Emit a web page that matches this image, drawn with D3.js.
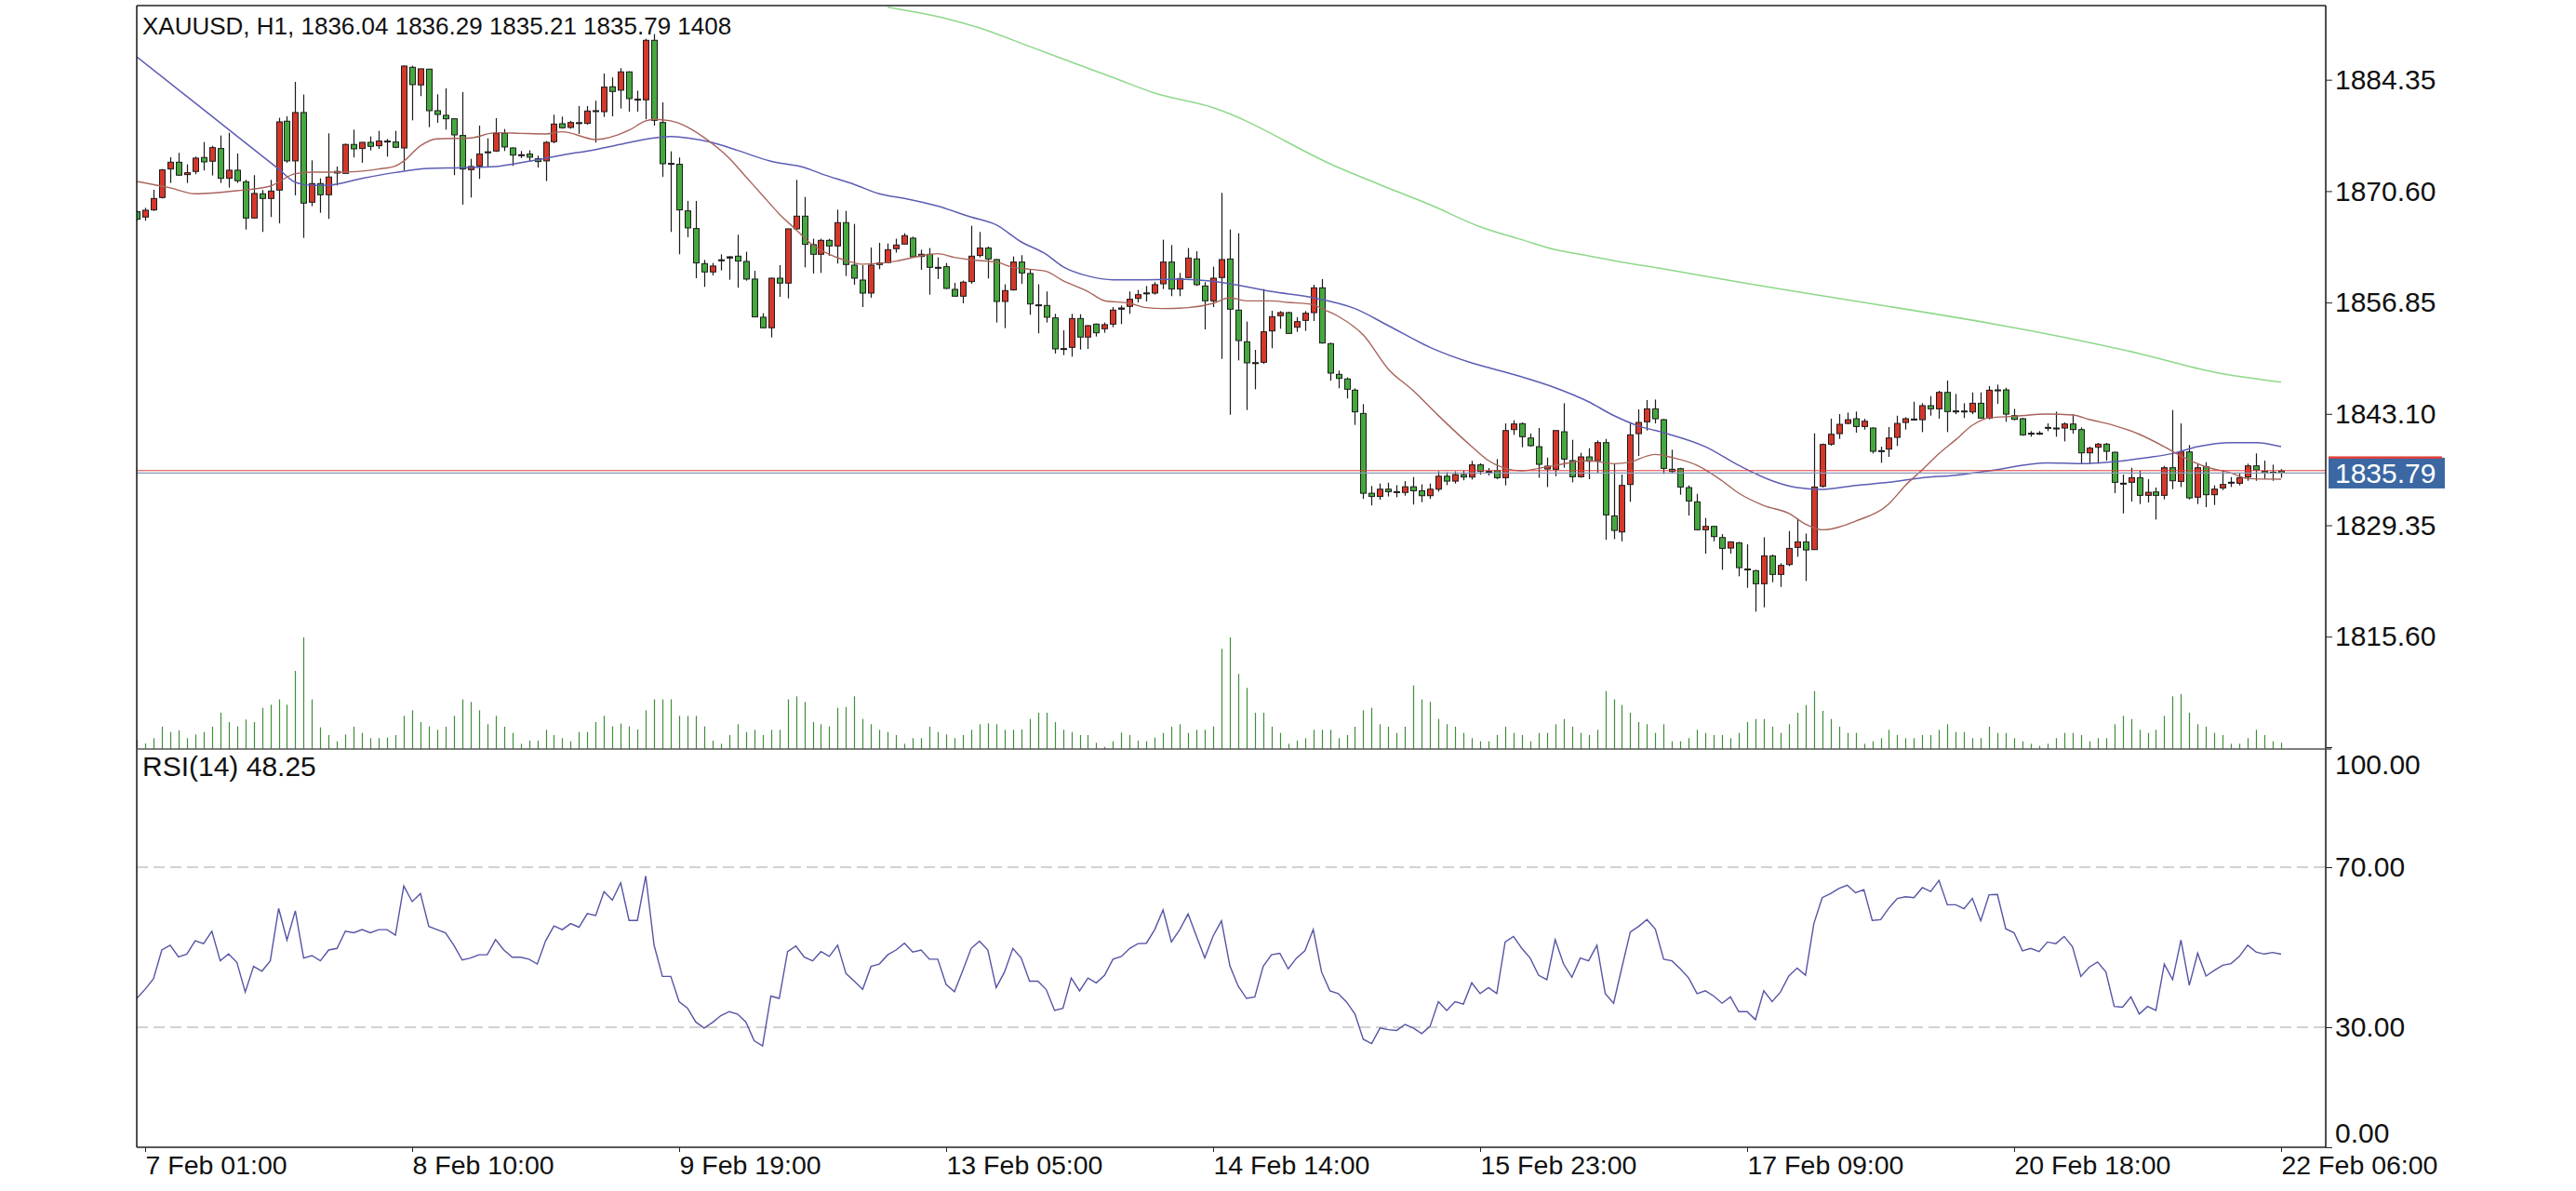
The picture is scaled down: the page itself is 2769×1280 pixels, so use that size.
<!DOCTYPE html>
<html><head><meta charset="utf-8">
<script src="https://cdn.jsdelivr.net/npm/d3@7"></script>
<style>
html,body{margin:0;padding:0;background:#fff;}
svg{display:block;}
text{font-family:"Liberation Sans", Arial, sans-serif;}
</style></head><body>
<svg id="chart" width="2769" height="1280"></svg>
<script>
// ---------- DATA (bar index i runs from firstBar=-1 to 256) ----------
const firstBar = -1;
const titleText = "XAUUSD, H1, 1836.04 1836.29 1835.21 1835.79 1408";
const rsiLabel = "RSI(14) 48.25";
const opens = [
1868.05,1867.40,1868.28,1869.81,1873.33,1874.17,1872.64,1873.03,1874.75,1874.29,1875.86,
1872.18,1873.18,1871.76,1867.28,1870.27,1869.69,1870.73,1879.23,1874.33,1880.30,
1869.23,1871.53,1870.15,1872.83,1872.79,1876.36,1875.86,1876.62,1876.20,1876.78,
1876.66,1875.93,1885.89,1883.71,1885.66,1880.53,1879.96,1879.53,1877.47,1873.25,
1873.71,1875.45,1875.55,1877.73,1875.93,1875.09,1875.17,1874.59,1874.33,1876.70,
1878.92,1878.46,1879.05,1878.96,1880.53,1880.41,1883.48,1883.06,1885.32,1881.95,
1881.87,1889.22,1879.07,1874.02,1873.91,1868.16,1865.98,1861.65,1860.62,1862.12,
1862.49,1862.57,1861.92,1859.74,1855.03,1853.73,1859.85,1859.24,1865.94,1867.51,
1863.99,1862.80,1864.52,1863.83,1866.71,1861.46,1859.62,1858.01,1861.54,1861.77,
1863.49,1864.06,1864.79,1862.53,1862.80,1861.19,1861.27,1858.47,1857.63,1859.43,
1862.65,1863.57,1862.15,1856.98,1858.40,1861.84,1860.43,1856.56,1856.48,1854.95,
1851.16,1851.31,1854.87,1852.58,1854.18,1853.61,1854.18,1856.02,1856.37,1857.36,
1858.01,1858.01,1859.16,1861.84,1858.51,1859.93,1862.23,1858.89,1857.05,1859.93,
1862.22,1855.91,1852.00,1849.42,1849.47,1853.34,1855.22,1855.60,1853.80,1854.64,
1855.60,1858.66,1851.77,1847.98,1847.41,1846.03,1843.15,1833.3,1832.9,1833.8,
1833.5,1833.4,1834.1,1833.6,1833.0,1833.8,1835.4,1834.8,1835.6,1835.3,
1836.8,1836.00,1836.10,1835.22,1841.16,1841.89,1840.12,1839.05,1836.30,1836.26,
1840.89,1837.33,1835.34,1837.79,1837.33,1839.55,1830.51,1828.52,1834.38,1840.66,
1842.12,1843.72,1842.38,1836.26,1836.33,1834.00,1832.24,1828.79,1829.21,1827.83,
1826.53,1827.18,1823.95,1823.74,1822.13,1825.57,1823.28,1824.50,1826.61,1827.30,
1826.34,1834.15,1839.36,1840.66,1841.92,1842.50,1841.54,1841.35,1838.56,1838.75,
1840.20,1842.04,1842.46,1842.38,1844.11,1843.72,1845.75,1843.46,1843.45,1843.34,
1844.41,1842.58,1846.06,1846.06,1842.88,1842.50,1840.71,1840.71,1841.43,1841.35,
1841.35,1841.85,1841.16,1838.29,1838.98,1839.36,1838.36,1834.54,1834.65,1835.22,
1833.04,1833.46,1833.04,1836.45,1834.76,1838.40,1832.81,1836.56,1833.12,1833.96,
1834.66,1834.53,1835.30,1836.68,1836.00,1835.90,1836.04];
const highs = [
1868.24,1868.54,1870.77,1873.33,1874.79,1875.32,1873.91,1874.86,1876.66,1876.20,1877.47,
1877.81,1875.25,1871.99,1872.57,1870.73,1871.99,1879.65,1879.84,1884.09,1882.52,
1874.40,1872.18,1877.73,1873.64,1876.47,1878.19,1876.66,1877.35,1878.04,1877.05,
1878.04,1886.12,1886.08,1885.70,1885.70,1882.56,1883.29,1879.53,1882.83,1874.59,
1878.69,1877.12,1879.61,1878.27,1876.01,1875.55,1875.63,1874.98,1876.78,1880.03,
1879.80,1879.27,1881.10,1881.10,1881.76,1885.12,1884.63,1885.78,1885.39,1883.00,
1889.41,1889.99,1881.56,1875.51,1874.75,1869.39,1869.39,1862.11,1861.73,1862.80,
1862.57,1865.21,1863.11,1860.77,1855.53,1859.93,1861.46,1865.98,1871.99,1869.88,
1864.72,1864.72,1864.72,1868.31,1868.16,1866.55,1861.46,1863.64,1864.22,1864.14,
1864.72,1865.40,1864.98,1863.37,1863.57,1862.42,1861.73,1859.28,1859.55,1866.32,
1865.56,1863.76,1862.23,1859.09,1862.53,1862.69,1860.89,1859.09,1858.21,1855.45,
1853.42,1855.45,1855.41,1854.07,1854.26,1854.38,1856.29,1856.48,1858.21,1858.40,
1858.89,1859.36,1864.60,1863.95,1860.50,1863.57,1863.18,1859.36,1861.27,1870.38,
1865.86,1865.40,1854.49,1851.00,1858.51,1855.83,1855.79,1855.71,1855.03,1855.79,
1859.05,1859.74,1851.89,1848.44,1847.60,1846.26,1844.3,1834.2,1834.5,1834.6,
1834.3,1834.8,1835.3,1834.4,1834.5,1836.0,1835.9,1836.0,1836.1,1837.3,
1837.0,1836.4,1837.52,1841.92,1842.31,1842.04,1840.66,1841.35,1837.71,1841.04,
1844.41,1839.90,1838.29,1838.86,1839.82,1840.01,1836.95,1835.61,1841.92,1843.65,
1844.80,1844.87,1842.50,1838.67,1836.45,1834.27,1833.23,1830.25,1829.29,1828.25,
1827.37,1827.30,1826.99,1823.85,1827.87,1825.73,1824.66,1828.64,1830.17,1828.33,
1840.70,1839.44,1842.50,1843.07,1843.26,1843.38,1842.50,1841.43,1839.05,1841.47,
1842.88,1842.69,1844.60,1844.41,1845.29,1845.95,1847.21,1845.56,1844.41,1845.75,
1845.75,1846.52,1846.71,1846.33,1843.72,1842.61,1840.97,1840.97,1841.92,1843.38,
1842.04,1843.07,1841.43,1839.05,1839.51,1839.51,1838.44,1835.61,1836.45,1836.07,
1835.03,1834.00,1836.68,1843.57,1841.92,1839.25,1836.95,1837.14,1834.27,1836.18,
1835.30,1835.80,1836.95,1838.21,1837.33,1836.83,1836.29];
const lows = [
1866.94,1866.94,1868.16,1869.69,1871.61,1872.49,1871.61,1872.68,1873.14,1872.53,1871.61,
1871.03,1871.61,1865.86,1867.20,1865.56,1867.40,1866.63,1874.10,1870.08,1864.83,
1868.74,1867.93,1867.17,1871.30,1872.76,1874.75,1874.10,1875.63,1875.82,1874.86,
1875.90,1873.14,1879.34,1882.33,1878.50,1879.04,1878.19,1872.57,1868.93,1869.81,
1872.11,1873.52,1875.44,1875.55,1873.71,1874.67,1874.29,1873.52,1871.84,1876.51,
1878.31,1878.31,1877.66,1878.81,1876.59,1879.76,1879.84,1880.80,1880.41,1880.41,
1879.46,1878.69,1872.37,1865.56,1862.80,1864.91,1859.85,1858.78,1860.20,1860.81,
1859.66,1858.67,1859.55,1855.07,1853.69,1852.54,1857.55,1857.36,1865.86,1861.19,
1860.43,1860.50,1862.61,1861.65,1860.12,1859.05,1856.29,1857.44,1860.96,1861.73,
1863.00,1864.03,1862.42,1860.89,1857.82,1859.74,1858.51,1857.63,1856.75,1859.16,
1862.42,1859.81,1854.38,1853.69,1858.32,1859.16,1855.33,1853.04,1854.38,1850.55,
1850.36,1850.16,1851.04,1851.12,1852.65,1853.11,1853.80,1854.18,1855.45,1856.86,
1856.98,1857.82,1858.51,1857.63,1857.63,1859.85,1858.89,1853.53,1856.29,1849.89,
1843.00,1849.70,1843.58,1846.14,1849.28,1851.20,1853.61,1852.96,1853.23,1853.34,
1854.57,1851.77,1847.21,1846.26,1845.00,1841.74,1832.6,1831.8,1832.5,1832.9,
1832.8,1833.0,1831.9,1832.2,1832.6,1833.5,1834.3,1834.5,1834.9,1835.0,
1835.6,1835.5,1835.03,1834.27,1840.51,1838.98,1839.05,1835.22,1834.07,1835.41,
1836.45,1834.65,1835.22,1835.03,1835.80,1827.56,1827.64,1827.37,1832.24,1837.90,
1841.04,1841.92,1835.68,1835.80,1833.12,1830.55,1828.71,1825.84,1827.37,1823.85,
1825.84,1823.05,1821.63,1818.68,1819.22,1822.32,1821.74,1824.31,1825.46,1822.47,
1826.30,1834.00,1839.17,1840.01,1841.81,1840.78,1841.16,1838.21,1837.06,1837.79,
1839.13,1841.16,1842.31,1840.85,1842.88,1842.50,1840.85,1843.07,1842.58,1843.07,
1842.50,1842.42,1844.34,1842.12,1842.31,1840.39,1840.28,1840.51,1840.97,1840.28,
1839.70,1840.66,1836.95,1836.95,1836.95,1837.33,1833.31,1830.82,1832.27,1831.97,
1832.16,1830.05,1832.54,1833.81,1834.07,1832.54,1831.97,1831.59,1831.85,1833.69,
1834.07,1834.27,1834.84,1834.84,1835.03,1834.84,1835.21];
const closes = [
1867.13,1868.24,1869.69,1873.22,1874.17,1872.57,1872.87,1874.67,1874.21,1875.97,1872.18,
1873.18,1871.88,1867.28,1870.31,1869.69,1870.61,1879.15,1874.33,1880.30,1869.12,
1871.53,1870.15,1872.34,1873.03,1876.36,1875.82,1876.62,1876.13,1876.78,1876.75,
1876.01,1886.04,1883.75,1885.70,1880.53,1880.07,1879.53,1877.54,1873.33,1873.64,
1875.17,1875.40,1877.73,1876.05,1875.05,1875.09,1874.79,1874.25,1876.62,1878.88,
1878.42,1879.07,1879.03,1880.49,1880.51,1883.44,1882.90,1885.32,1882.02,1881.93,
1889.22,1879.34,1873.98,1874.00,1868.28,1866.06,1861.73,1860.62,1861.35,1862.09,
1862.34,1861.96,1859.74,1855.07,1853.73,1859.85,1859.24,1865.94,1867.51,1864.03,
1862.80,1864.52,1863.83,1866.71,1861.54,1859.85,1858.01,1861.46,1861.73,1863.37,
1863.95,1865.10,1862.49,1862.80,1861.19,1861.17,1858.59,1857.63,1859.36,1862.57,
1863.57,1862.23,1856.98,1858.32,1861.84,1860.50,1856.67,1856.54,1855.03,1851.12,
1851.14,1854.87,1852.58,1853.99,1853.11,1854.11,1855.91,1856.17,1857.25,1857.82,
1858.03,1859.05,1861.84,1858.51,1859.81,1862.34,1859.05,1857.06,1859.85,1862.15,
1856.02,1852.15,1849.40,1849.40,1853.23,1855.10,1855.60,1853.03,1854.49,1855.52,
1858.66,1851.85,1848.13,1847.48,1846.14,1843.35,1833.3,1832.9,1833.8,1833.5,
1833.4,1834.1,1833.6,1833.0,1833.8,1835.4,1834.8,1835.6,1835.3,1836.8,
1836.0,1835.99,1835.22,1841.04,1841.85,1840.28,1839.17,1836.87,1836.64,1841.04,
1837.52,1835.34,1837.79,1837.25,1839.55,1830.63,1828.71,1834.27,1840.51,1842.04,
1843.72,1842.50,1836.37,1835.99,1834.07,1832.35,1828.79,1829.21,1827.95,1826.49,
1827.30,1824.12,1823.93,1822.13,1825.57,1823.28,1824.39,1826.49,1827.30,1826.30,
1834.07,1839.32,1840.58,1841.81,1842.38,1841.54,1842.19,1838.48,1838.55,1840.12,
1841.92,1842.50,1842.46,1844.11,1843.72,1845.75,1843.38,1843.45,1843.40,1844.41,
1842.58,1846.02,1846.05,1843.07,1842.42,1840.51,1840.70,1840.70,1841.42,1841.35,
1841.85,1841.16,1838.29,1838.86,1839.36,1838.48,1834.65,1834.53,1835.22,1833.04,
1833.42,1833.04,1836.45,1834.84,1838.40,1832.73,1836.45,1833.12,1833.81,1834.38,
1834.65,1835.22,1836.68,1836.18,1835.80,1835.88,1835.79];
const volumes = [
2100,1260,2450,5040,3850,4200,2450,3290,3850,5040,8190,
6090,5110,6650,6090,9310,10010,11200,10010,17640,25200,
11200,4900,3150,1750,3290,5040,3640,2450,2450,2590,
3150,7490,8750,6090,5110,4340,5040,7490,11200,10640,
8750,5600,7490,5040,3640,1190,1890,1890,4340,3150,
2450,1750,3850,3850,6090,7490,5110,5740,5110,4410,
8750,11200,11200,11200,7490,7490,7490,5110,1890,1190,
3150,5600,3850,4340,3150,4340,4340,11200,11900,10640,
6090,5600,5110,9310,9450,11900,6790,5600,4340,3850,
3150,1190,2450,2450,5040,3850,3290,2450,3150,4340,
5600,5810,5600,4340,4340,4410,6790,8190,8190,6090,
4340,3850,3150,3150,1400,490,1750,3710,3150,1890,
1750,2590,3640,5040,5600,3640,4340,4340,5110,22610,
25200,16940,13790,8190,8190,5040,3640,1190,1890,2450,
4340,4340,4340,2450,3150,5040,8750,9310,5600,5040,
3640,5040,14350,11200,10640,6790,5600,5040,3640,2450,
1750,1750,3150,5040,3640,3150,1750,3640,3640,5600,
6790,5040,3640,3150,4340,13090,11200,9940,8190,6090,
5600,3640,5600,1750,1750,2450,4340,3640,3150,3150,
2450,3640,6090,6790,6790,5040,3640,5600,8190,9940,
13090,8610,6790,5040,3640,3640,1190,1750,2450,4340,
3150,2450,2450,3150,3150,4340,5600,3850,3850,2450,
2450,5040,3640,3640,2450,1750,1190,700,1190,2450,
3640,3640,3150,1750,2450,2450,5600,7490,6790,4340,
3640,4340,7490,11900,12390,8190,5600,5040,3640,3150,
1190,1190,2450,4340,3150,1750,1408];
const rsiValues = [
37.2,39.5,42.1,49.3,50.5,47.6,48.3,51.6,50.9,54.0,46.6,
48.3,46.2,38.8,45.2,44.0,46.6,59.7,51.8,59.1,47.3,
47.9,46.6,49.3,49.7,54.0,53.6,54.4,53.6,54.4,54.4,
53.0,65.3,61.4,63.4,55.2,54.4,53.6,50.5,46.8,47.3,
48.1,48.1,51.9,49.3,47.5,47.5,47.0,45.8,51.6,55.3,
54.4,55.9,55.0,58.4,57.9,63.9,61.8,66.1,56.7,56.7,
67.8,50.5,42.7,42.7,36.4,34.8,31.3,29.8,31.2,32.9,
33.9,33.3,31.3,26.6,25.3,37.8,37.2,48.9,50.3,47.5,
46.6,48.9,47.7,50.5,43.4,41.5,39.5,45.2,45.8,48.1,
49.3,51.0,48.8,49.3,47.0,47.0,40.7,38.9,44.2,49.7,
51.5,49.3,39.9,43.8,49.7,47.3,41.5,41.5,39.4,34.2,
34.7,42.3,39.1,42.3,41.1,43.0,47.0,47.7,49.7,50.9,
51.0,54.4,59.3,51.3,54.4,58.3,52.8,47.3,52.8,56.6,
45.4,40.3,37.2,37.6,45.2,48.1,48.5,44.6,47.3,49.1,
54.4,43.8,39.1,38.4,36.3,33.3,27.0,25.9,29.8,29.4,
29.2,30.7,29.8,28.4,30.2,36.4,34.2,36.4,35.8,41.1,
38.4,39.9,38.4,51.3,52.7,49.7,47.3,43.0,41.9,51.9,
45.8,42.5,47.3,46.6,50.5,38.4,36.0,45.0,53.8,55.2,
56.9,54.5,47.0,46.6,44.6,42.3,38.4,39.1,37.8,36.0,
37.6,33.9,33.9,31.9,39.1,36.4,38.8,42.8,44.8,43.0,
55.9,62.4,63.4,64.7,65.5,63.6,64.4,56.7,56.9,59.8,
62.2,62.6,62.4,64.9,63.9,66.7,60.6,60.6,59.6,62.2,
56.6,63.1,63.2,54.6,53.6,49.1,49.7,48.9,51.3,50.9,
52.7,50.1,42.7,45.0,46.3,43.8,35.2,35.0,37.6,33.3,
35.2,34.2,45.8,41.9,51.8,40.5,48.5,42.8,44.2,45.5,
45.9,47.7,50.5,48.8,48.3,48.7,48.25];

// moving averages read at sampled bars
const maBlueBars = [-1,8,16,18,20,22,26,30,34,38,42,46,50,54,58,61,63,65,68,71,75,79,81,85,88,91,95,99,102,105,108,110,113,116,120,124,127,130,135,140,145,149,154,159,161,165,169,173,176,179,182,187,191,195,198,201,205,209,213,217,221,228,232,236,240,243,246,250,253,256];
const maBlueValues = [1887.19,1879.84,1873.33,1871.68,1871.30,1871.34,1872.18,1872.90,1873.40,1873.48,1873.64,1874.29,1875.05,1875.74,1876.59,1877.16,1877.35,1877.16,1876.59,1875.63,1874.29,1873.52,1872.76,1871.42,1870.27,1869.69,1868.74,1867.40,1866.44,1864.33,1862.80,1861.27,1860.12,1859.66,1859.66,1859.74,1859.55,1859.16,1858.20,1857.44,1856.10,1853.99,1851.31,1849.40,1848.82,1847.67,1846.33,1844.60,1842.90,1841.60,1840.78,1839.05,1836.75,1834.84,1834.00,1833.77,1834.27,1834.65,1835.22,1835.53,1836.07,1837.06,1836.95,1837.21,1837.71,1838.21,1839.05,1839.55,1839.55,1839.05];
const maRedBars = [-1,3,6,11,15,18,20,24,28,30,31,33,35,39,42,45,48,50,54,58,60,61,63,65,67,70,72,74,76,78,80,82,84,86,90,93,95,97,99,102,104,106,108,110,113,115,118,120,122,125,128,130,132,135,137,140,141,143,146,149,152,155,159,161,163,165,167,169,173,176,178,180,181,183,186,189,191,194,197,199,201,205,209,211,213,215,217,219,221,224,228,231,233,236,239,242,244,247,250,252,256];
const maRedValues = [1871.80,1871.00,1870.27,1870.65,1871.22,1872.76,1872.95,1872.95,1873.33,1873.71,1874.30,1876.20,1877.05,1877.16,1877.81,1877.73,1877.66,1877.93,1876.97,1878.12,1879.27,1879.46,1879.27,1878.50,1877.20,1874.67,1872.37,1870.08,1867.78,1865.86,1863.95,1862.80,1862.03,1861.58,1861.96,1862.61,1862.88,1862.42,1862.11,1861.84,1861.19,1860.96,1860.69,1859.55,1858.21,1857.06,1856.75,1856.21,1856.10,1856.21,1856.75,1857.44,1857.05,1857.05,1856.86,1856.59,1856.10,1855.14,1852.84,1848.63,1845.95,1842.89,1839.06,1837.33,1836.37,1836.07,1836.37,1836.75,1837.33,1836.95,1837.14,1837.90,1838.10,1837.71,1836.75,1834.84,1833.31,1831.78,1830.82,1829.48,1828.79,1829.86,1832.00,1834.30,1836.20,1838.20,1839.90,1841.70,1842.60,1842.80,1843.07,1842.96,1842.42,1841.66,1840.58,1839.05,1837.90,1836.56,1835.80,1835.11,1835.03];
const maGreenBars = [89,96,100,106,112,116,121,128,143,148,154,160,165,169,173,177,182,189,239,248,256];
const maGreenValues = [1893.3,1891.9,1890.75,1888.46,1886.16,1884.63,1882.71,1880.9,1873.52,1871.4,1868.92,1866.2,1864.6,1863.37,1862.61,1861.84,1861.0,1859.73,1850.54,1848.24,1847.02];

const tickBars = [0,32,64,96,128,160,192,224,256];
const tickLabels = ["7 Feb 01:00","8 Feb 10:00","9 Feb 19:00","13 Feb 05:00","14 Feb 14:00","15 Feb 23:00","17 Feb 09:00","20 Feb 18:00","22 Feb 06:00"];
const priceTicks = [1884.35,1870.60,1856.85,1843.10,1829.35,1815.60];
const rsiTicks = [100,70,30,0];
const rsiLevels = [70,30];
const bidPrice = 1835.79;
const askPrice = 1836.10;

// ---------- LAYOUT ----------
const L = 147, R = 2500, T = 6, MB = 805, RT = 805, RB = 1233, CANVAS_R = 2629;
const x = d3.scaleLinear().domain([0,256]).range([156,2452]);
const y = d3.scaleLinear().domain([1815.60,1884.35]).range([684.2,85.7]);
const yv = d3.scaleLinear().domain([0,25200]).range([MB,685]);
const yr = d3.scaleLinear().domain([0,100]).range([RB,803]);

const RED = "#d5372a", GREEN = "#45a83e";
const svg = d3.select("#chart");
const defs = svg.append("defs");
defs.append("clipPath").attr("id","mainClip").append("rect")
  .attr("x",L).attr("y",T).attr("width",R-L).attr("height",MB-T);
defs.append("clipPath").attr("id","rsiClip").append("rect")
  .attr("x",L).attr("y",RT).attr("width",R-L).attr("height",RB-RT);
defs.append("clipPath").attr("id","canvasClip").append("rect")
  .attr("x",0).attr("y",0).attr("width",CANVAS_R).attr("height",1280);

svg.append("rect").attr("width",2769).attr("height",1280).attr("fill","#fff");

const bars = d3.range(opens.length).map(k => ({
  i: firstBar + k, o: opens[k], h: highs[k], l: lows[k], c: closes[k], v: volumes[k], r: rsiValues[k]
}));

const main = svg.append("g").attr("clip-path","url(#mainClip)");

// volumes
main.append("g").selectAll("line").data(bars).join("line")
  .attr("x1",d=>Math.round(x(d.i))+0.5).attr("x2",d=>Math.round(x(d.i))+0.5)
  .attr("y1",yv(0)).attr("y2",d=>yv(d.v))
  .attr("stroke","#3f8f3a").attr("stroke-width",1.2);

// wicks
main.append("g").selectAll("line").data(bars).join("line")
  .attr("x1",d=>Math.round(x(d.i))+0.5).attr("x2",d=>Math.round(x(d.i))+0.5)
  .attr("y1",d=>y(d.h)).attr("y2",d=>y(d.l))
  .attr("stroke","#1c1c1c").attr("stroke-width",1.2);

// bodies
const bw = 6;
main.append("g").selectAll("rect").data(bars).join("rect")
  .attr("x",d=>Math.round(x(d.i))-bw/2+0.5)
  .attr("y",d=>y(Math.max(d.o,d.c)))
  .attr("width",bw)
  .attr("height",d=>Math.max(1,Math.abs(y(d.o)-y(d.c))))
  .attr("fill",d=>{
    const hgt = Math.abs(y(d.o)-y(d.c));
    if (hgt < 1.5) return "#1c1c1c";
    return d.c > d.o ? RED : GREEN;
  })
  .attr("stroke","#1c1c1c").attr("stroke-width",1);

// moving averages
const maLine = d3.line().x(d=>x(d[0])).y(d=>y(d[1])).curve(d3.curveMonotoneX);
main.append("path").attr("d",maLine(maGreenBars.map((b,k)=>[b,maGreenValues[k]])))
  .attr("fill","none").attr("stroke","#8ed88a").attr("stroke-width",1.5);
main.append("path").attr("d",maLine(maBlueBars.map((b,k)=>[b,maBlueValues[k]])))
  .attr("fill","none").attr("stroke","#5c5cb4").attr("stroke-width",1.5);
main.append("path").attr("d",maLine(maRedBars.map((b,k)=>[b,maRedValues[k]])))
  .attr("fill","none").attr("stroke","#a8645a").attr("stroke-width",1.4);

// bid / ask lines
main.append("line").attr("x1",L).attr("x2",R).attr("y1",y(askPrice)).attr("y2",y(askPrice))
  .attr("stroke","#e0403a").attr("stroke-width",1.2);
main.append("line").attr("x1",L).attr("x2",R).attr("y1",y(bidPrice)).attr("y2",y(bidPrice))
  .attr("stroke","#8a98b8").attr("stroke-width",1.2);

// title
svg.append("text").attr("x",153).attr("y",37).attr("font-size",26).attr("fill","#111").text(titleText);

// ---------- RSI pane ----------
const rsiG = svg.append("g").attr("clip-path","url(#rsiClip)");
rsiG.selectAll("line.lvl").data(rsiLevels).join("line")
  .attr("x1",L).attr("x2",R).attr("y1",d=>yr(d)).attr("y2",d=>yr(d))
  .attr("stroke","#c4c4c4").attr("stroke-width",1.3).attr("stroke-dasharray","12,6");
const rsiLine = d3.line().x(d=>x(d.i)).y(d=>yr(d.r));
rsiG.append("path").attr("d",rsiLine(bars)).attr("fill","none")
  .attr("stroke","#5555a6").attr("stroke-width",1.4);
svg.append("text").attr("x",153).attr("y",834).attr("font-size",30).attr("fill","#111").text(rsiLabel);

// ---------- frame ----------
const frame = svg.append("g").attr("stroke","#222").attr("stroke-width",1.6);
frame.append("line").attr("x1",L).attr("x2",L).attr("y1",T).attr("y2",RB);
frame.append("line").attr("x1",L).attr("x2",R).attr("y1",T).attr("y2",T);
frame.append("line").attr("x1",R).attr("x2",R).attr("y1",T).attr("y2",RB);
frame.append("line").attr("x1",L).attr("x2",R).attr("y1",RB).attr("y2",RB);
frame.append("line").attr("x1",L).attr("x2",R+6).attr("y1",MB).attr("y2",MB).attr("stroke","#555");

// ---------- axes ----------
const yAxis = d3.axisRight(y).tickValues(priceTicks).tickSize(7).tickPadding(3).tickFormat(d3.format(".2f"));
const gy = svg.append("g").attr("transform",`translate(${R},0)`).call(yAxis);
gy.select(".domain").remove();
gy.selectAll("line").attr("stroke","#222");
gy.selectAll("text").attr("font-size",30).attr("fill","#111").attr("font-family","Liberation Sans, Arial, sans-serif");

const rAxis = d3.axisRight(yr).tickValues(rsiTicks).tickSize(7).tickPadding(3).tickFormat(d3.format(".2f"));
const gr = svg.append("g").attr("transform",`translate(${R},0)`).call(rAxis);
gr.select(".domain").remove();
gr.selectAll("line").attr("stroke","#222");
gr.selectAll("text").attr("font-size",30).attr("fill","#111").attr("font-family","Liberation Sans, Arial, sans-serif")
  .attr("dy",d=> d===100 ? "0.95em" : d===0 ? "-0.2em" : "0.32em");

const xAxis = d3.axisBottom(x).tickValues(tickBars).tickSize(5).tickFormat((d,k)=>tickLabels[k]);
const gxWrap = svg.append("g").attr("clip-path","url(#canvasClip)");
const gx = gxWrap.append("g").attr("transform",`translate(0,${RB})`).call(xAxis);
gx.select(".domain").remove();
gx.selectAll("line").attr("stroke","#222");
gx.selectAll("text").attr("font-size",28.5).attr("fill","#111").attr("text-anchor","start")
  .attr("x",0).attr("y",29).attr("dy",0).attr("font-family","Liberation Sans, Arial, sans-serif");

// current price label
const by = y(bidPrice);
svg.append("rect").attr("x",R+3).attr("y",by-16.5).attr("width",125).attr("height",33).attr("fill","#3b68a3");
svg.append("rect").attr("x",R+3).attr("y",by-18).attr("width",122).attr("height",2.5).attr("fill","#e0403a");
svg.append("text").attr("x",R+10).attr("y",by).attr("dy","0.36em").attr("font-size",30).attr("fill","#fff")
  .text(d3.format(".2f")(bidPrice));
</script>
</body></html>
